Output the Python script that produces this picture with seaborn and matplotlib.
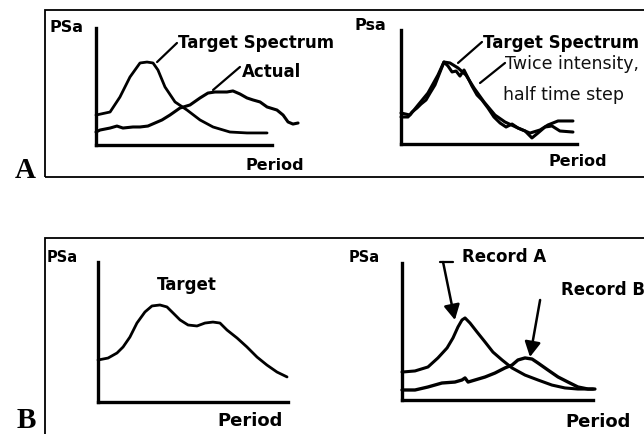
import matplotlib
matplotlib.use("Agg")
import matplotlib.pyplot as plt
from matplotlib.patches import Rectangle
import numpy as np
import pandas as pd
import seaborn as sns

# ---- schematic spectra (Period, PSa), both on 0-10 panel scales ----
# Panel A, left: target spectrum vs. actual record
a1_target_period = [0, 0.80, 1.36, 1.93, 2.50, 2.90, 3.24, 3.52, 3.92, 4.49, 5.17, 5.91, 6.65, 7.61, 8.58, 9.72]
a1_target_psa    = [2.56, 2.82, 4.10, 5.81, 7.01, 7.09, 7.01, 6.41, 4.96, 3.68, 2.99, 2.14, 1.54, 1.11, 1.03, 1.03]
a1_actual_period = [0, 0.23, 0.80, 1.19, 1.53, 2.10, 2.50, 2.95, 3.35, 3.75, 4.20, 4.77, 5.34, 5.91, 6.36,
                    6.76, 7.05, 7.44, 7.78, 8.18, 8.58, 8.92, 9.32, 9.72, 10.28, 10.63, 10.91, 11.19, 11.48]
a1_actual_psa    = [1.11, 1.28, 1.45, 1.62, 1.45, 1.54, 1.54, 1.62, 1.88, 2.14, 2.56, 3.16, 3.42, 4.02, 4.44,
                    4.53, 4.53, 4.53, 4.62, 4.36, 4.02, 3.85, 3.68, 3.25, 2.99, 2.56, 1.97, 1.79, 1.88]

# Panel A, right: target spectrum vs. twice intensity / half time step
a2_target_period = [0, 0.51, 0.97, 1.53, 2.10, 2.44, 2.78, 3.24, 3.69, 4.15, 4.72, 5.34, 5.91, 6.65,
                    7.33, 7.90, 8.35, 8.92, 9.77]
a2_target_psa    = [2.72, 2.54, 3.42, 4.47, 6.05, 7.19, 7.11, 6.67, 6.05, 4.91, 3.68, 2.54, 1.93, 1.40,
                    0.96, 1.23, 1.67, 2.02, 2.02]
a2_twice_period  = [0, 0.40, 0.63, 0.91, 1.14, 1.42, 1.65, 1.93, 2.22, 2.44, 2.67, 2.90, 3.13, 3.35, 3.58,
                    3.81, 4.03, 4.32, 4.60, 4.94, 5.28, 5.63, 5.97, 6.31, 6.65, 7.05, 7.44, 7.78, 8.18,
                    8.58, 9.03, 9.77]
a2_twice_psa     = [2.37, 2.37, 2.81, 3.16, 3.51, 3.86, 4.47, 5.18, 6.32, 7.19, 6.84, 6.32, 6.40, 5.96, 6.49,
                    5.79, 5.09, 4.30, 3.86, 3.16, 2.37, 1.84, 1.49, 1.75, 1.40, 1.14, 0.53, 0.96, 1.49,
                    1.58, 1.14, 1.05]

# Panel B, left: target spectrum with two humps
b1_target_period = [0, 0.53, 1.0, 1.32, 1.68, 2.05, 2.47, 2.84, 3.26, 3.63, 3.95, 4.32, 4.74, 5.21, 5.63,
                    6.05, 6.42, 6.79, 7.32, 7.84, 8.37, 8.89, 9.42, 9.95]
b1_target_psa    = [3.0, 3.14, 3.5, 3.93, 4.64, 5.64, 6.43, 6.86, 6.93, 6.79, 6.36, 5.86, 5.5, 5.43, 5.64,
                    5.71, 5.64, 5.14, 4.57, 3.93, 3.21, 2.64, 2.14, 1.79]

# Panel B, right: two candidate records
b2_reca_period = [0, 0.68, 1.36, 1.88, 2.36, 2.67, 2.93, 3.14, 3.30, 3.56, 3.93, 4.35, 4.76, 5.24, 5.76,
                  6.44, 7.12, 7.85, 8.53, 9.21, 10.0]
b2_reca_psa    = [2.04, 2.12, 2.41, 3.07, 3.80, 4.53, 5.33, 5.84, 5.99, 5.62, 4.96, 4.23, 3.50, 2.92, 2.34,
                  1.82, 1.46, 1.09, 0.88, 0.80, 0.80]
b2_recb_period = [0, 0.68, 1.36, 2.09, 2.77, 3.14, 3.30, 3.46, 3.82, 4.35, 4.87, 5.39, 5.76, 6.07, 6.44,
                  6.81, 7.12, 7.64, 8.17, 8.69, 9.21, 9.74, 10.1]
b2_recb_psa    = [0.73, 0.73, 0.95, 1.24, 1.31, 1.46, 1.61, 1.31, 1.46, 1.68, 1.97, 2.34, 2.55, 2.92, 3.07,
                  2.99, 2.70, 2.19, 1.68, 1.31, 0.95, 0.80, 0.80]

W, H = 644, 434
sns.set_theme(style="white")
plt.rcParams["font.family"] = ["DejaVu Sans"]

fig = plt.figure(figsize=(W / 100, H / 100), dpi=100)
fig.patch.set_facecolor("white")


def fx(x):
    return x / W


def fy(y):
    return 1 - y / H


def panel(x0, x1, y_top, y_bot):
    ax = fig.add_axes([fx(x0), fy(y_bot), fx(x1) - fx(x0), fy(y_top) - fy(y_bot)])
    ax.set_xlim(0, 10)
    ax.set_ylim(0, 10)
    ax.set_facecolor("none")
    for side in ("top", "right"):
        ax.spines[side].set_visible(False)
    for side in ("left", "bottom"):
        ax.spines[side].set_color("black")
        ax.spines[side].set_linewidth(2.4)
    ax.set_xticks([])
    ax.set_yticks([])
    ax.set_xlabel("")
    ax.set_ylabel("")
    return ax


def curve(ax, xs, ys, lw=2.0):
    df = pd.DataFrame({"Period": xs, "PSa": ys})
    n0 = len(ax.lines)
    sns.lineplot(data=df, x="Period", y="PSa", ax=ax, color="black", linewidth=lw,
                 estimator=None, sort=False, legend=False)
    for ln in ax.lines[n0:]:
        ln.set_clip_on(False)
        ln.set_solid_joinstyle("round")
        ln.set_solid_capstyle("round")
    ax.set_xlabel("")
    ax.set_ylabel("")


def leader(ax, p0, p1, lw=1.6):
    ax.plot([p0[0], p1[0]], [p0[1], p1[1]], color="black", lw=lw, clip_on=False)


def label(x, y, s, size=11.5, weight="bold", ha="left", va="center", family=None, color="black"):
    kw = {}
    if family:
        kw["family"] = family
    fig.text(fx(x), fy(y), s, fontsize=size, fontweight=weight, ha=ha, va=va, color=color, **kw)


# outer frames of the two figure parts
fig.add_artist(Rectangle((fx(45), fy(177)), fx(700) - fx(45), fy(10) - fy(177),
                         transform=fig.transFigure, fill=False, lw=1.3, ec="black", clip_on=False))
fig.add_artist(Rectangle((fx(45), fy(500)), fx(700) - fx(45), fy(238) - fy(500),
                         transform=fig.transFigure, fill=False, lw=1.3, ec="black", clip_on=False))

# ---- A, left ----
ax1 = panel(96, 272, 28, 145)
curve(ax1, a1_target_period, a1_target_psa)
curve(ax1, a1_actual_period, a1_actual_psa, lw=2.2)
leader(ax1, (3.47, 7.09), (4.60, 8.72))
leader(ax1, (6.65, 4.70), (8.18, 6.67))
label(50, 28, "PSa")
label(178, 43, "Target Spectrum", size=12)
label(242, 72, "Actual", size=12)
label(245, 166, "Period")

# ---- A, right ----
ax2 = panel(401, 577, 30, 144)
curve(ax2, a2_target_period, a2_target_psa, lw=2.2)
curve(ax2, a2_twice_period, a2_twice_psa, lw=2.2)
leader(ax2, (3.24, 7.11), (4.60, 8.95))
leader(ax2, (4.49, 5.35), (5.91, 7.11))
label(354, 26, "Psa")
label(483, 43, "Target Spectrum", size=12)
label(505, 64, "Twice intensity,", weight="normal", size=12.5, color="#111111")
label(503, 95, "half time step", weight="normal", size=12.5, color="#111111")
label(549, 162, "Period")

# ---- B, left ----
ax3 = panel(98, 288, 262, 402)
curve(ax3, b1_target_period, b1_target_psa)
label(47, 257, "PSa", size=10.5)
label(157, 285, "Target", size=12)
label(217, 421, "Period", size=13)

# ---- B, right ----
ax4 = panel(402, 593, 263, 400)
curve(ax4, b2_reca_period, b2_reca_psa, lw=2.2)
curve(ax4, b2_recb_period, b2_recb_psa, lw=2.4)
ax4.plot([1.99, 2.67], [10.07, 10.07], color="black", lw=1.6, clip_on=False)
arrow_kw = dict(arrowstyle="-|>,head_length=0.75,head_width=0.4", color="black", lw=1.8,
                shrinkA=0, shrinkB=0)
ax4.annotate("", xy=(2.77, 5.84), xytext=(2.15, 10.07), arrowprops=arrow_kw, annotation_clip=False)
ax4.annotate("", xy=(6.70, 3.14), xytext=(7.23, 7.30), arrowprops=arrow_kw, annotation_clip=False)
label(349, 258, "PSa", size=10.5)
label(462, 257, "Record A", size=12)
label(561, 290, "Record B", size=12)
label(565, 422, "Period", size=13)

# part letters
label(15, 178, "A", size=21, va="baseline", family="Liberation Serif")
label(17, 433.5, "B", size=21, va="bottom", family="Liberation Serif")

fig.savefig("out.png", dpi=100, facecolor="white")
